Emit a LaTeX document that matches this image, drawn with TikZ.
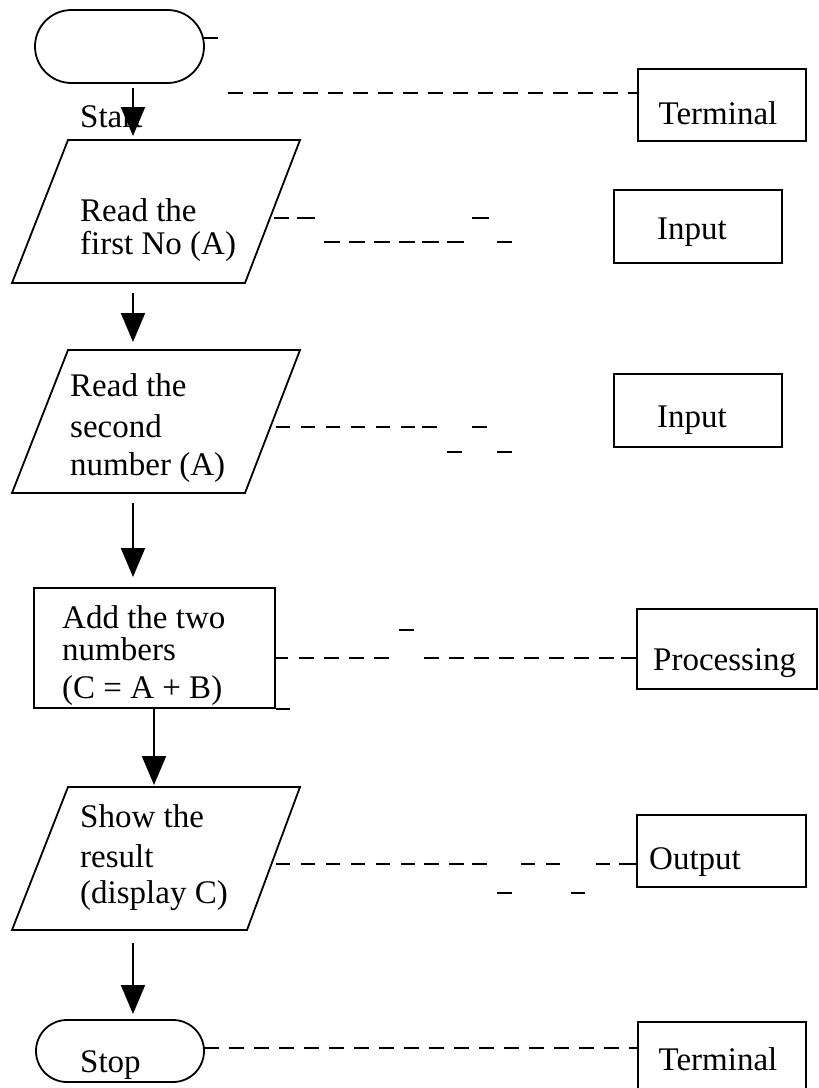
\documentclass[tikz,border=0pt]{standalone}
\usepackage{fontspec}
\setmainfont{Liberation Serif}
\usetikzlibrary{arrows.meta,shapes.misc}
\begin{document}
\begin{tikzpicture}[x=1pt,y=-1pt,
  shp/.style={draw, line width=1.8pt, inner sep=0pt},
  boxn/.style={shp, anchor=north west},
  lbl/.style={font=\fontsize{33}{36}\selectfont, inner sep=0pt, anchor=base west},
  conn/.style={line width=2pt, -{Triangle[width=24pt,length=29pt]}},
  dsh/.style={line width=2pt, dash pattern=on 15pt off 10pt},
  seg/.style={line width=2pt}]
\useasboundingbox[fill=white] (0,0) rectangle (819,1088);

% ---- left column shapes ----
\node[shp, rounded rectangle, minimum width=169pt, minimum height=73pt] (start) at (119.5,46.5) {};
\draw[shp] (68,140) coordinate (p1tl) -- (300,140) coordinate (p1tr) -- (245,283) coordinate (p1br) -- (12,283) coordinate (p1bl) -- cycle;
\draw[shp] (68,350) coordinate (p2tl) -- (300,350) coordinate (p2tr) -- (245,493) coordinate (p2br) -- (12,493) coordinate (p2bl) -- cycle;
\node[boxn, minimum width=241pt, minimum height=120pt] (proc) at (33,587) {};
\draw[shp] (68,787) coordinate (p3tl) -- (300,787) coordinate (p3tr) -- (247,930) coordinate (p3br) -- (12,930) coordinate (p3bl) -- cycle;
\node[shp, rounded rectangle, minimum width=168pt, minimum height=62pt] (stop) at (120,1051) {};

% ---- right column boxes ----
\node[boxn, minimum width=168pt, minimum height=72pt] (term1) at (637,68) {};
\node[boxn, minimum width=168pt, minimum height=73pt] (in1) at (613,189) {};
\node[boxn, minimum width=168pt, minimum height=73pt] (in2) at (613,373) {};
\node[boxn, minimum width=180pt, minimum height=80pt] (procb) at (636,608) {};
\node[boxn, minimum width=169pt, minimum height=72pt] (outb) at (636,814) {};
\node[boxn, minimum width=168pt, minimum height=75pt] (term2) at (637,1021) {};

% ---- texts ----
\node[lbl] (tstart) at (80,127) {Start};
\node[lbl] (tp1a) at (80,221) {Read the};
\node[lbl] (tp1b) at (80,254) {first No (A)};
\node[lbl] (tp2a) at (70,396) {Read the};
\node[lbl] (tp2b) at (70,437) {second};
\node[lbl] (tp2c) at (70,475) {number (A)};
\node[lbl] (tpra) at (62,628) {Add the two};
\node[lbl] (tprb) at (62,660) {numbers};
\node[lbl] (tprc) at (62,698) {(C = A + B)};
\node[lbl] (tp3a) at (80,827) {Show the};
\node[lbl] (tp3b) at (80,867) {result};
\node[lbl] (tp3c) at (80,903) {(display C)};
\node[lbl] (tstop) at (80,1072) {Stop};
\node[lbl, anchor=base] (tterm1) at (718,124) {Terminal};
\node[lbl, anchor=base] (tin1) at (692,239) {Input};
\node[lbl, anchor=base] (tin2) at (692,427) {Input};
\node[lbl] (tproc) at (653,670) {Processing};
\node[lbl] (tout) at (649,869) {Output};
\node[lbl, anchor=base] (tterm2) at (718,1070) {Terminal};

% ---- flow arrows ----
\coordinate (a1s) at (133,88);  \coordinate (a1e) at (133,136);
\coordinate (a2s) at (133,293); \coordinate (a2e) at (133,342);
\coordinate (a3s) at (133,503); \coordinate (a3e) at (133,577);
\coordinate (a4s) at (154,707); \coordinate (a4e) at (154,785);
\coordinate (a5s) at (133,943); \coordinate (a5e) at (133,1014);
\draw[conn] (a1s) -- (a1e);
\draw[conn] (a2s) -- (a2e);
\draw[conn] (a3s) -- (a3e);
\draw[conn] (a4s) -- (a4e);
\draw[conn] (a5s) -- (a5e);

% ---- terminal (start) ----
\coordinate (s1) at (203,38); \coordinate (s1e) at (218,38);
\draw[seg] (s1) -- (s1e);
\coordinate (d1s) at (228,93);
\draw[dsh] (d1s) -- (d1s -| term1.west);

% ---- input 1 ----
\foreach \a/\b in {274/289,297/315,472/489} \draw[seg] (\a,218) -- (\b,218);
\foreach \a/\b in {324/340,349/365,374/390,399/415,422/439,447/464,497/512} \draw[seg] (\a,242) -- (\b,242);

% ---- input 2 ----
\foreach \a/\b in {276/290,301/315,326/340,351/365,376/390,401/415,422/437,472/487} \draw[seg] (\a,427) -- (\b,427);
\foreach \a/\b in {447/462,497/512} \draw[seg] (\a,452) -- (\b,452);

% ---- processing ----
\draw[seg] (proc.south east) -- ++(14,0);
\draw[seg] (274,658) -- (288,658);
\foreach \a/\b in {299/314,324/339,349/364,374/389,424/439,449/464,474/489,499/514,524/539,549/564,574/589,599/614,621/636} \draw[seg] (\a,658) -- (\b,658);
\draw[seg] (399,630) -- (414,630);

% ---- output ----
\foreach \a/\b in {276/290,301/315,326/340,351/365,376/390,401/415,424/439,449/464,472/487,521/535,546/560,596/610,619/636} \draw[seg] (\a,864) -- (\b,864);
\foreach \a/\b in {497/512,571/585} \draw[seg] (\a,893) -- (\b,893);

% ---- terminal (stop) ----
\coordinate (d6s) at (204,1048);
\draw[dsh] (d6s) -- (d6s -| term2.west);
\end{tikzpicture}
\end{document}
